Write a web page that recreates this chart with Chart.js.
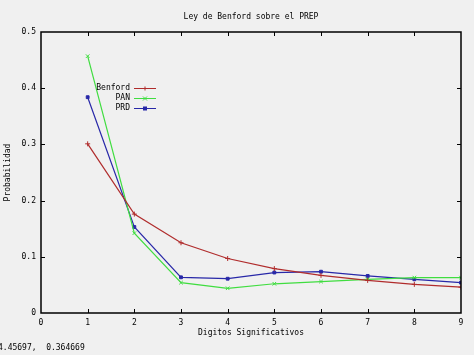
<!DOCTYPE html>
<html>
<head>
<meta charset="utf-8">
<script src="https://cdn.jsdelivr.net/npm/chart.js@4"></script>
<style>
  html, body { margin: 0; padding: 0; background: #f0f0f0; }
  #wrap { width: 474px; height: 355px; }
</style>
</head>
<body>
<div id="wrap"><canvas id="c" width="474" height="355"></canvas></div>
<script>
const digits = [1, 2, 3, 4, 5, 6, 7, 8, 9];
const benford = [0.301, 0.176, 0.125, 0.097, 0.079, 0.067, 0.058, 0.051, 0.046];
const pan = [0.457, 0.142, 0.054, 0.044, 0.052, 0.056, 0.060, 0.063, 0.063];
const prd = [0.384, 0.153, 0.0635, 0.061, 0.072, 0.0735, 0.066, 0.060, 0.054];
const xTickLabels = ['0', '1', '2', '3', '4', '5', '6', '7', '8', '9'];
const yTickLabels = ['0', '0.1', '0.2', '0.3', '0.4', '0.5'];
const titleText = 'Ley de Benford sobre el PREP';
const xTitle = 'Digitos Significativos';
const yTitle = 'Probabilidad';
const statusText = '4.45697,  0.364669';

const FONT = "'DejaVu Sans Mono', monospace";
const colors = { Benford: '#b02c2c', PAN: '#40dd40', PRD: '#2828a8' };

function pts(vals) { return digits.map((d, i) => ({ x: d, y: vals[i] })); }

const frame = {
  id: 'frame',
  beforeDraw(chart) {
    const ctx = chart.ctx;
    ctx.save();
    ctx.fillStyle = '#f0f0f0';
    ctx.fillRect(0, 0, chart.width, chart.height);
    ctx.restore();
  },
  afterDraw(chart) {
    const { ctx, chartArea: a, scales: { x, y } } = chart;
    ctx.save();
    // title centred over the plot area
    ctx.fillStyle = '#000';
    ctx.font = '8px ' + FONT;
    ctx.textAlign = 'center';
    ctx.textBaseline = 'middle';
    ctx.fillText(titleText, (a.left + a.right) / 2, 17);

    ctx.strokeStyle = '#000';
    ctx.lineWidth = 1.5;
    ctx.strokeRect(a.left, a.top, a.right - a.left, a.bottom - a.top);
    ctx.lineWidth = 1;
    const t = 4;
    ctx.beginPath();
    for (let i = 1; i < xTickLabels.length - 1; i++) {
      const px = Math.round(x.getPixelForValue(i)) + 0.5;
      ctx.moveTo(px, a.bottom); ctx.lineTo(px, a.bottom - t);
      ctx.moveTo(px, a.top); ctx.lineTo(px, a.top + t);
    }
    for (let i = 1; i < yTickLabels.length - 1; i++) {
      const py = Math.round(y.getPixelForValue(i / 10)) + 0.5;
      ctx.moveTo(a.left, py); ctx.lineTo(a.left + t, py);
      ctx.moveTo(a.right, py); ctx.lineTo(a.right - t, py);
    }
    ctx.stroke();

    // legend
    ctx.textAlign = 'right';
    chart.data.datasets.forEach((ds, i) => {
      const yy = 88 + i * 10;
      ctx.fillStyle = '#000';
      ctx.fillText(ds.label, 130, yy);
      ctx.strokeStyle = ds.borderColor;
      ctx.lineWidth = 1;
      ctx.beginPath();
      ctx.moveTo(134, yy + 0.5); ctx.lineTo(156, yy + 0.5);
      ctx.stroke();
      const mx = 145;
      ctx.fillStyle = ds.borderColor;
      if (ds.pointStyle === 'rect') {
        ctx.fillRect(mx - 2, yy - 1.5, 4, 4);
      } else {
        ctx.beginPath();
        if (ds.pointStyle === 'cross') {
          ctx.moveTo(mx - 2, yy + 0.5); ctx.lineTo(mx + 2, yy + 0.5);
          ctx.moveTo(mx, yy - 1.5); ctx.lineTo(mx, yy + 2.5);
        } else {
          ctx.moveTo(mx - 2, yy - 1.5); ctx.lineTo(mx + 2, yy + 2.5);
          ctx.moveTo(mx + 2, yy - 1.5); ctx.lineTo(mx - 2, yy + 2.5);
        }
        ctx.stroke();
      }
    });

    // status text
    ctx.fillStyle = '#000';
    ctx.textAlign = 'left';
    ctx.fillText(statusText, -2, 348);
    ctx.restore();
  }
};

new Chart(document.getElementById('c'), {
  type: 'line',
  data: {
    datasets: [
      { label: 'Benford', data: pts(benford), borderColor: colors.Benford, backgroundColor: colors.Benford,
        pointStyle: 'cross', pointRadius: 2.5, borderWidth: 1.2, pointBorderWidth: 1 },
      { label: 'PAN', data: pts(pan), borderColor: colors.PAN, backgroundColor: colors.PAN,
        pointStyle: 'crossRot', pointRadius: 2.5, borderWidth: 1.2, pointBorderWidth: 1 },
      { label: 'PRD', data: pts(prd), borderColor: colors.PRD, backgroundColor: colors.PRD,
        pointStyle: 'rect', pointRadius: 2, borderWidth: 1.2, pointBorderWidth: 1 }
    ]
  },
  options: {
    responsive: false,
    animation: false,
    devicePixelRatio: 1,
    layout: { padding: { left: 0, right: 13, top: 32, bottom: 0 } },
    plugins: {
      legend: { display: false },
      tooltip: { enabled: false },
      title: { display: false, text: titleText }
    },
    elements: { line: { tension: 0 } },
    scales: {
      x: {
        type: 'linear', min: 0, max: 9,
        grid: { display: false, drawTicks: false },
        border: { display: false },
        afterFit(s) { s.height = 42; },
        ticks: {
          stepSize: 1, padding: 5, color: '#000', maxRotation: 0, autoSkip: false,
          font: { family: FONT, size: 8 },
          callback: (v) => xTickLabels[v]
        },
        title: { display: true, text: xTitle, color: '#000', font: { family: FONT, size: 8 }, padding: { top: 0, bottom: 17 } }
      },
      y: {
        min: 0, max: 0.5,
        grid: { display: false, drawTicks: false },
        border: { display: false },
        afterFit(s) { s.width = 41; },
        ticks: {
          stepSize: 0.1, padding: 5, color: '#000',
          font: { family: FONT, size: 8 },
          callback: (v) => yTickLabels[Math.round(v * 10)]
        },
        title: { display: true, text: yTitle, color: '#000', font: { family: FONT, size: 8 }, padding: { top: 3, bottom: 0 } }
      }
    }
  },
  plugins: [frame]
});
</script>
</body>
</html>
